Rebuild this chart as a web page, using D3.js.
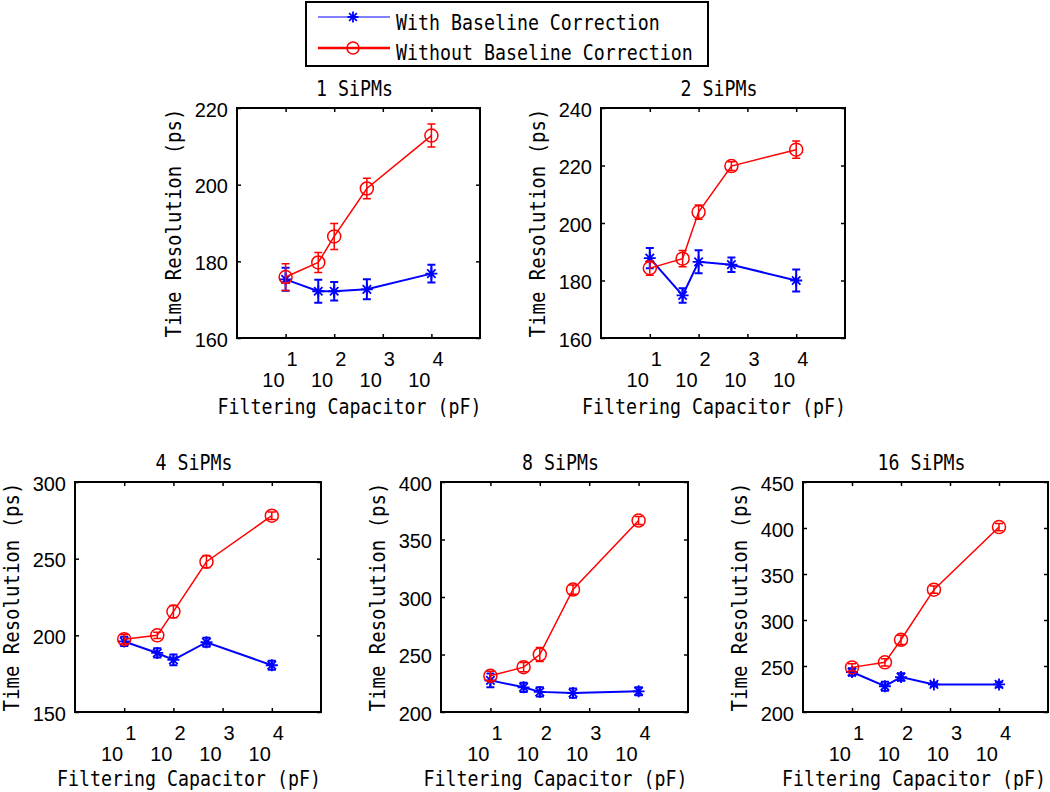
<!DOCTYPE html>
<html><head><meta charset="utf-8">
<script src="https://cdn.jsdelivr.net/npm/d3@7"></script>
<style>body{margin:0;background:#fff}</style>
</head><body><svg id="c" width="1050" height="792"></svg>
<script>
// ---------------- data ----------------
const capacitance = [10, 47, 100, 470, 10000];
const panelTitles = ["1 SiPMs", "2 SiPMs", "4 SiPMs", "8 SiPMs", "16 SiPMs"];
const withCorr = [
  [175.3, 172.2, 172.2, 172.7, 176.8],
  [187.8, 174.8, 186.5, 185.5, 180.0],
  [196.0, 188.5, 184.0, 195.5, 180.5],
  [227.5, 221.5, 217.5, 216.5, 218.0],
  [243.5, 228.0, 238.0, 230.0, 230.0]
];
const withCorrErr = [
  [3.0, 3.0, 2.4, 2.6, 2.3],
  [3.5, 2.5, 4.0, 2.5, 3.8],
  [3.0, 3.0, 3.5, 3.0, 3.0],
  [6.0, 4.0, 4.0, 4.0, 3.5],
  [4.0, 5.0, 4.0, 2.0, 3.0]
];
const withoutCorr = [
  [175.9, 179.7, 186.5, 199.0, 212.8],
  [184.3, 187.6, 203.8, 219.8, 225.5],
  [197.5, 200.0, 215.5, 248.0, 278.0],
  [231.5, 239.0, 250.0, 306.5, 366.5],
  [248.5, 254.0, 278.5, 333.0, 401.0]
];
const withoutCorrErr = [
  [3.5, 2.6, 3.4, 2.7, 3.0],
  [2.5, 2.8, 2.5, 1.5, 3.0],
  [3.0, 2.0, 4.0, 4.0, 2.5],
  [4.0, 4.0, 6.0, 4.0, 3.5],
  [4.0, 4.0, 5.0, 4.0, 4.0]
];
const yDomains = [[160, 220], [160, 240], [150, 300], [200, 400], [200, 450]];
const yTicks = [
  [160, 180, 200, 220],
  [160, 180, 200, 220, 240],
  [150, 200, 250, 300],
  [200, 250, 300, 350, 400],
  [200, 250, 300, 350, 400, 450]
];
const xDomain = [1, 100000];
const xTicks = [10, 100, 1000, 10000];
const xTickBase = "10";
const xTickExp = ["1", "2", "3", "4"];
const seriesNames = ["With Baseline Correction", "Without Baseline Correction"];
const xLabel = "Filtering Capacitor (pF)";
const yLabel = "Time Resolution (ps)";

// ---------------- layout / style ----------------
const boxes = [
  {l: 237, t: 108, r: 480, b: 338},
  {l: 601, t: 108, r: 845, b: 338},
  {l: 75,  t: 482, r: 321, b: 712},
  {l: 441, t: 482, r: 688, b: 712},
  {l: 803, t: 482, r: 1048, b: 712}
];
const BLUE = "#0000ff", RED = "#ff0000";
const MONO = "'DejaVu Sans Mono', 'Liberation Mono', monospace";
const SANS = "'Liberation Sans', Arial, sans-serif";
const CHARW = 11;

const svg = d3.select("#c");
svg.append("rect").attr("width", 1050).attr("height", 792).attr("fill", "#fff");

// monospace text: font size chosen from the char advance, stretched vertically
function mono(parent, str, x, y, anchor, rot, cw) {
  const fs = (cw || CHARW) / 0.602;
  return parent.append("text").text(str)
    .attr("transform", `translate(${x},${y})${rot ? " rotate(" + rot + ")" : ""} scale(1,1.15)`)
    .attr("text-anchor", anchor)
    .attr("font-family", MONO)
    .attr("font-size", fs.toFixed(2))
    .attr("fill", "#000");
}

function asterisk(g, cx, cy, s, color) {
  const d = `M${cx - s},${cy}L${cx + s},${cy}M${cx},${cy - s}L${cx},${cy + s}` +
    `M${cx - s * 0.7},${cy - s * 0.7}L${cx + s * 0.7},${cy + s * 0.7}` +
    `M${cx - s * 0.7},${cy + s * 0.7}L${cx + s * 0.7},${cy - s * 0.7}`;
  g.append("path").attr("d", d).attr("stroke", color).attr("stroke-width", 1.8).attr("fill", "none");
}

panelTitles.forEach((title, i) => {
  const b = boxes[i];
  const x = d3.scaleLog().domain(xDomain).range([b.l, b.r]);
  const y = d3.scaleLinear().domain(yDomains[i]).range([b.b, b.t]);
  const g = svg.append("g");

  // axes box
  g.append("rect").attr("x", b.l).attr("y", b.t).attr("width", b.r - b.l).attr("height", b.b - b.t)
    .attr("fill", "#fff").attr("stroke", "#000").attr("stroke-width", 2);

  // ticks (inward) via d3 axes
  const axL = g.append("g").attr("transform", `translate(${b.l},0)`)
    .call(d3.axisLeft(y).tickValues(yTicks[i]).tickSize(-4).tickPadding(9).tickFormat(d3.format("d")));
  const axR = g.append("g").attr("transform", `translate(${b.r},0)`)
    .call(d3.axisRight(y).tickValues(yTicks[i]).tickSize(-4).tickFormat(""));
  const axB = g.append("g").attr("transform", `translate(0,${b.b})`)
    .call(d3.axisBottom(x).tickValues(xTicks).tickSize(-4).tickFormat(""));
  const axT = g.append("g").attr("transform", `translate(0,${b.t})`)
    .call(d3.axisTop(x).tickValues(xTicks).tickSize(-4).tickFormat(""));
  [axL, axR, axB, axT].forEach(a => {
    a.select(".domain").remove();
    a.selectAll("line").attr("stroke", "#000").attr("stroke-width", 1.5);
  });
  axL.selectAll("text").attr("font-family", SANS).attr("font-size", 20).attr("fill", "#000").attr("dy", "0.40em");

  // x tick labels 10^n
  xTicks.forEach((t, k) => {
    g.append("text").attr("x", x(t) - 1).attr("y", b.b + 49).attr("text-anchor", "end")
      .attr("font-family", SANS).attr("font-size", 20).text(xTickBase);
    g.append("text").attr("x", x(t) + 1).attr("y", b.b + 28).attr("text-anchor", "start")
      .attr("font-family", SANS).attr("font-size", 20).text(xTickExp[k]);
  });

  // title & labels
  const cx = (b.l + b.r) / 2;
  mono(g, title, cx - 4, b.t - 12, "middle");
  mono(g, xLabel, Math.min(cx - 9, 1046 - 132), Math.min(b.b + 76, 786), "middle");
  mono(g, yLabel, b.l - 56, (b.t + b.b) / 2, "middle", -90, 11.45);

  // series
  const line = d3.line().x(d => x(d[0])).y(d => y(d[1]));
  const series = [
    {vals: withCorr[i], errs: withCorrErr[i], color: BLUE, lw: 2, ew: 2, m: "star"},
    {vals: withoutCorr[i], errs: withoutCorrErr[i], color: RED, lw: 1.5, ew: 1.5, m: "circle"}
  ];
  series.forEach(s => {
    const pts = capacitance.map((c, k) => [c, s.vals[k], s.errs[k]]);
    g.append("path").datum(pts).attr("d", line).attr("fill", "none")
      .attr("stroke", s.color).attr("stroke-width", s.lw);
    pts.forEach(p => {
      const px = x(p[0]), y1 = y(p[1] - p[2]), y2 = y(p[1] + p[2]);
      g.append("path").attr("d", `M${px},${y1}L${px},${y2}M${px - 4},${y1}L${px + 4},${y1}M${px - 4},${y2}L${px + 4},${y2}`)
        .attr("stroke", s.color).attr("stroke-width", s.ew).attr("fill", "none");
      if (s.m === "circle") {
        g.append("circle").attr("cx", px).attr("cy", y(p[1])).attr("r", 6.5)
          .attr("fill", "none").attr("stroke", s.color).attr("stroke-width", 1.5);
      } else {
        asterisk(g, px, y(p[1]), 6, s.color);
      }
    });
  });
});

// ---------------- legend ----------------
const lg = svg.append("g");
lg.append("rect").attr("x", 306).attr("y", 2).attr("width", 402).attr("height", 64)
  .attr("fill", "#fff").attr("stroke", "#000").attr("stroke-width", 2);
const legendRows = [
  {name: seriesNames[0], color: BLUE, lw: 1.2, m: "star", ly: 17, ty: 29.5},
  {name: seriesNames[1], color: RED, lw: 2.5, m: "circle", ly: 48, ty: 59.5}
];
legendRows.forEach(r => {
  lg.append("line").attr("x1", 318).attr("x2", 390).attr("y1", r.ly).attr("y2", r.ly)
    .attr("stroke", r.color).attr("stroke-width", r.lw);
  if (r.m === "circle") {
    lg.append("circle").attr("cx", 353).attr("cy", r.ly).attr("r", 6)
      .attr("fill", "none").attr("stroke", r.color).attr("stroke-width", 1.5);
  } else {
    asterisk(lg, 353, r.ly, 5.5, r.color);
  }
  mono(lg, r.name, 396, r.ty, "start");
});
</script>
</body></html>
